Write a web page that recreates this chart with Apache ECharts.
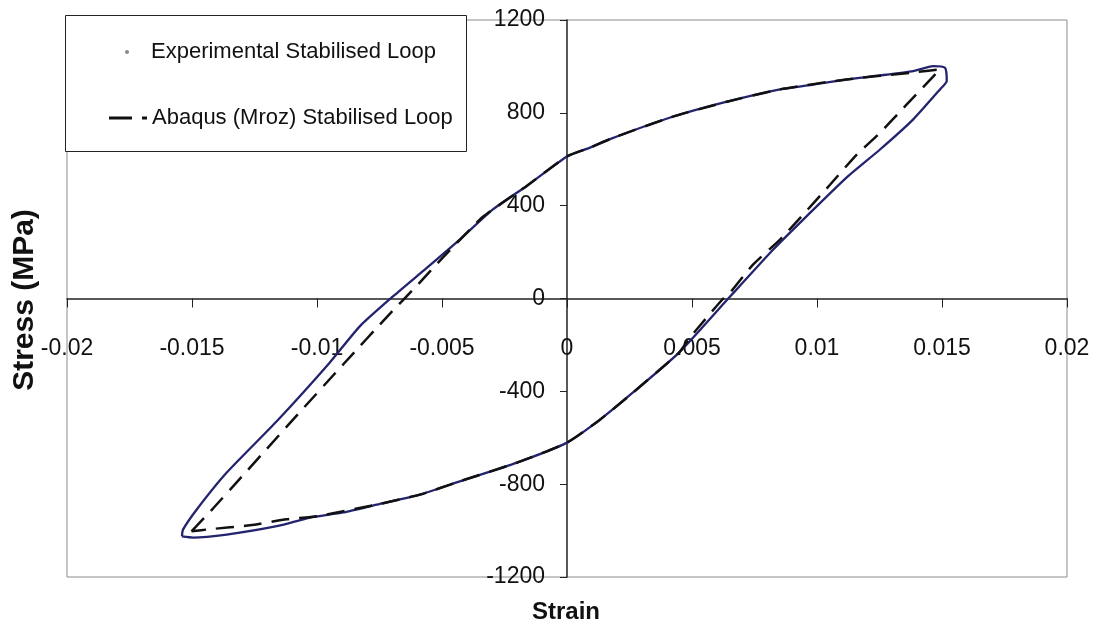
<!DOCTYPE html>
<html>
<head>
<meta charset="utf-8">
<title>Stabilised Loop</title>
<script src="https://cdn.jsdelivr.net/npm/echarts@6/dist/echarts.min.js"></script>
<style>
  html, body { margin: 0; padding: 0; background: #fff; }
  #chart { width: 1097px; height: 632px; }
</style>
</head>
<body>
<div id="chart"></div>
<script type="text/javascript">
// series names
var expName = 'Experimental Stabilised Loop';
var abqName = 'Abaqus (Mroz) Stabilised Loop';

// experimental loop: loading branch, unloading, lower branch (strain, MPa)
var expStrain = [-0.0154, -0.01536, -0.01481, -0.01361, -0.01161, -0.00952, -0.00828,
  -0.00695, -0.00561, -0.00428, -0.00295, -0.00161, 0, 0.00092, 0.00172, 0.00416, 0.00644, 0.00852,
  0.00985, 0.01119, 0.01252, 0.01385, 0.01465, 0.01512, 0.01519,
  0.01492, 0.01385, 0.01252, 0.01119, 0.00959, 0.00825, 0.00692, 0.00645,
  0.00448, 0.00264, 0.00132, 0, -0.002, -0.00432,
  -0.00588, -0.00761, -0.00896, -0.01028, -0.01161, -0.01361, -0.01496, -0.0154];
var expStress = [-1025, -996, -909, -750, -529, -280, -119,
  10, 132, 255, 385, 485, 612, 650, 687, 781, 849, 901,
  922, 944, 961, 980, 1001, 994, 937,
  901, 772, 642, 522, 355, 211, 55, 0,
  -233, -405, -522, -621, -707, -789,
  -845, -888, -922, -944, -981, -1017, -1030, -1025];

// abaqus (mroz) loop
var abqStrain = [-0.01502, -0.01416, -0.01308, -0.012, -0.01096, -0.00892, -0.00708, -0.006,
  -0.00496, -0.00376, -0.0034, -0.00295, -0.00161, 0, 0.00092, 0.00172, 0.00416, 0.00644, 0.00852,
  0.01119, 0.01385, 0.01492,
  0.01359, 0.01252, 0.01159, 0.01052, 0.00945, 0.00852, 0.00745, 0.00652, 0.00625,
  0.00552, 0.00492, 0.00448, 0.00264, 0.00132, 0, -0.002, -0.00432, -0.00588, -0.00761,
  -0.01001, -0.01121, -0.01268, -0.01428, -0.01502];
var abqStress = [-1003, -905, -776, -647, -522, -280, -65, 56,
  177, 310, 349, 385, 485, 612, 650, 687, 781, 849, 901,
  944, 974, 987,
  836, 714, 620, 490, 362, 254, 147, 25, 0,
  -91, -168, -233, -405, -522, -621, -707, -789, -845, -888,
  -938, -951, -977, -994, -1003];

// axis ranges
var xMin = -0.02, xMax = 0.02, xStep = 0.005;
var yMin = -1200, yMax = 1200, yStep = 400;

function pairs(xs, ys) {
  var out = [];
  for (var i = 0; i < xs.length; i++) out.push([xs[i], ys[i]]);
  return out;
}

var font = "'Liberation Sans', Arial, sans-serif";

// plot box in px; the axes cross at (0, 0) inside it
var gLeft = 67, gRight = 30, gTop = 20, gBottom = 55;
var gW = 1097 - gLeft - gRight, gH = 632 - gTop - gBottom;
var yAxisShift = -gW * (0 - xMin) / (xMax - xMin);
var xAxisShift = -gH * (0 - yMin) / (yMax - yMin);

var chart = echarts.init(document.getElementById('chart'));
var option = {
  animation: false,
  backgroundColor: '#fff',
  grid: {
    left: gLeft, right: gRight, top: gTop, bottom: gBottom,
    containLabel: false, outerBoundsMode: 'none',
    show: true, borderColor: '#8c8c8c', borderWidth: 1, backgroundColor: 'transparent'
  },
  legend: [
    {
      data: [{ name: expName, icon: 'circle', itemStyle: { color: '#8a8a8a' } }],
      left: 125, top: 41, padding: 0,
      itemWidth: 4, itemHeight: 4,
      selectedMode: false,
      textStyle: { fontFamily: font, fontSize: 22, color: '#111', padding: [0, 0, 0, 17] }
    },
    {
      data: [{
        name: abqName,
        icon: 'path://M0,0L23,0L23,3L0,3Z M33,0L38,0L38,3L33,3Z',
        itemStyle: { color: '#111' }
      }],
      left: 109, top: 107, padding: 0,
      itemWidth: 38, itemHeight: 3,
      selectedMode: false,
      textStyle: { fontFamily: font, fontSize: 22, color: '#111' }
    }
  ],
  xAxis: {
    type: 'value', min: xMin, max: xMax, interval: xStep,
    offset: xAxisShift,
    axisLine: { onZero: false, lineStyle: { color: '#222', width: 1.5 } },
    axisTick: { show: true, length: 9, lineStyle: { color: '#222' } },
    axisLabel: { margin: 39, fontFamily: font, fontSize: 23, color: '#111' },
    splitLine: { show: false }
  },
  yAxis: {
    type: 'value', min: yMin, max: yMax, interval: yStep,
    offset: yAxisShift,
    axisLine: { show: true, onZero: false, lineStyle: { color: '#222', width: 1.5 } },
    axisTick: { show: true, length: 7, lineStyle: { color: '#222' } },
    axisLabel: {
      margin: 22, fontFamily: font, fontSize: 23, color: '#111', padding: [6, 0, 0, 0],
      formatter: function (v) { return String(v); }
    },
    splitLine: { show: false }
  },
  graphic: [
    {
      type: 'rect', z: 3,
      shape: { x: 65.5, y: 15.5, width: 401, height: 136 },
      style: { fill: '#fff', stroke: '#222', lineWidth: 1 }
    },
    {
      type: 'text', z: 5, x: 566, y: 612,
      style: { text: 'Strain', font: 'bold 24px ' + font, fill: '#111', align: 'center', verticalAlign: 'middle' }
    },
    {
      type: 'text', z: 5, x: 25, y: 300, rotation: Math.PI / 2,
      style: { text: 'Stress (MPa)', font: 'bold 30px ' + font, fill: '#111', align: 'center', verticalAlign: 'middle' }
    }
  ],
  series: [
    {
      name: expName, type: 'line', symbol: 'none', smooth: 0.2,
      data: pairs(expStrain, expStress),
      lineStyle: { color: '#23236e', width: 2.3 },
      itemStyle: { color: '#23236e' }
    },
    {
      name: abqName, type: 'line', symbol: 'none', smooth: 0.2,
      data: pairs(abqStrain, abqStress),
      lineStyle: { color: '#111', width: 2.5, type: [18, 10] },
      itemStyle: { color: '#111' }
    }
  ]
};
chart.setOption(option);
</script>
</body>
</html>
